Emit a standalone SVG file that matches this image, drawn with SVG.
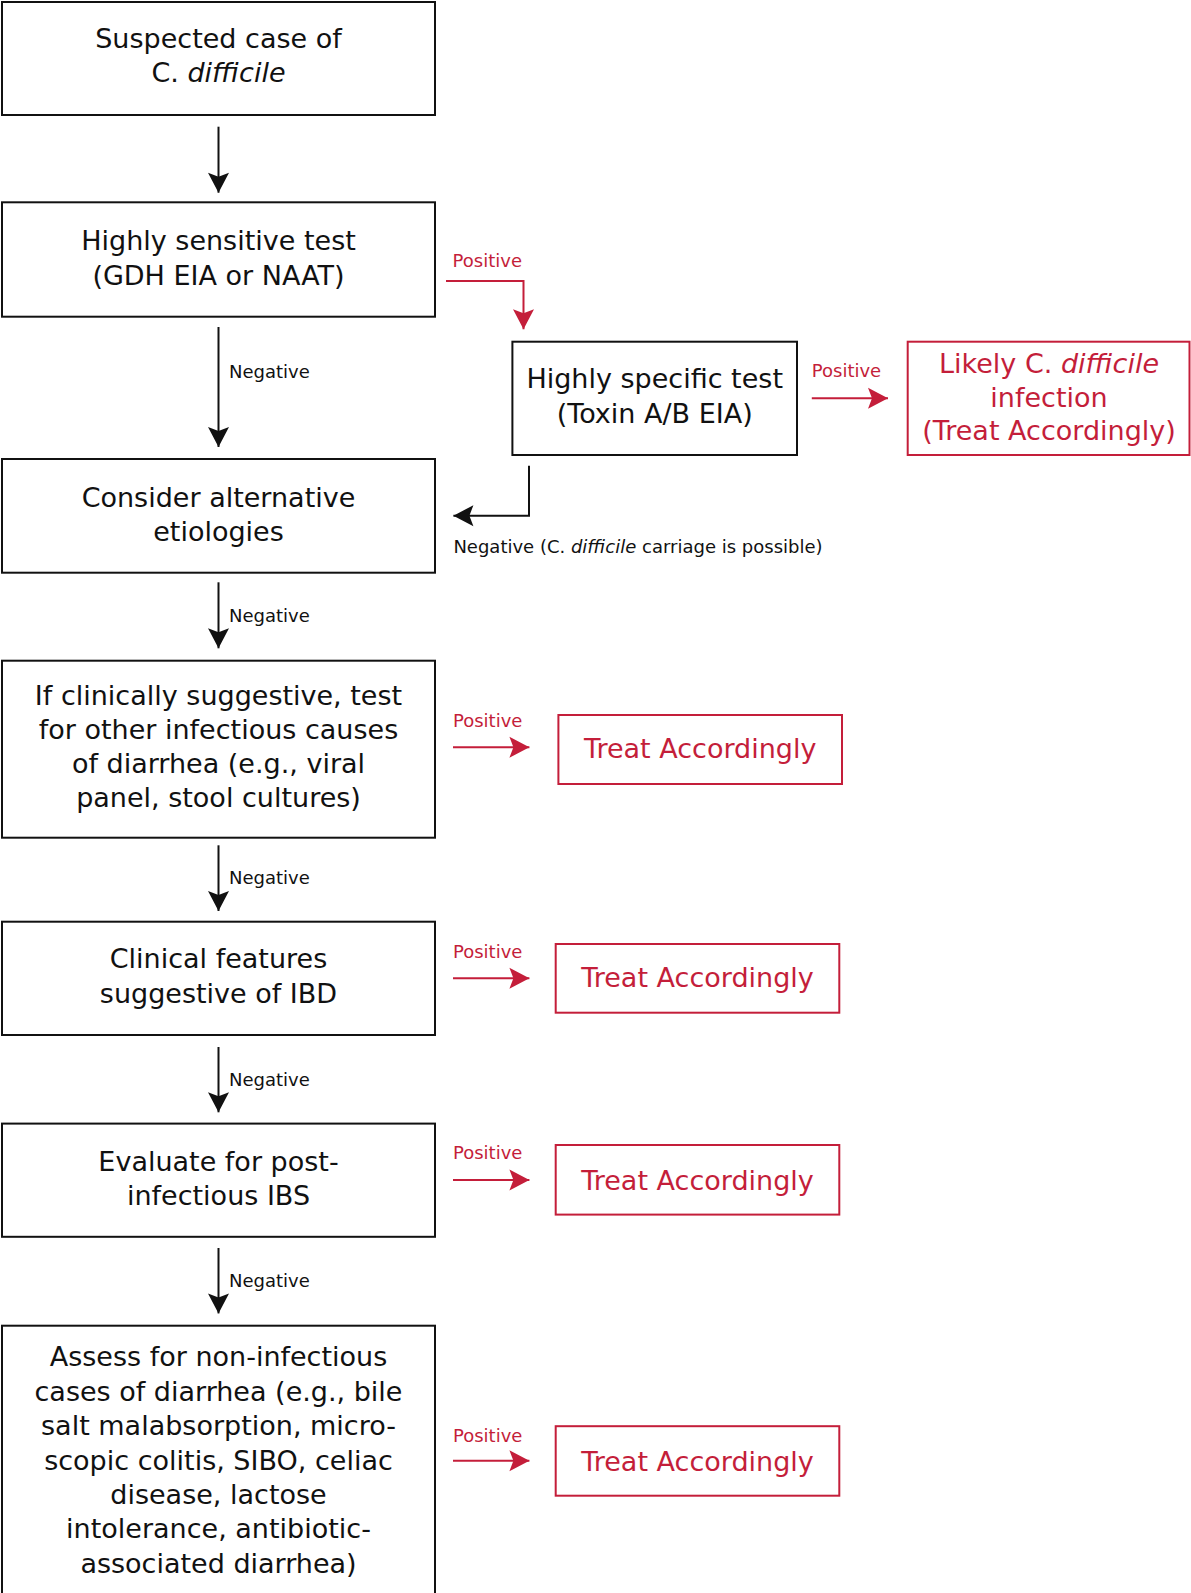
<svg xmlns="http://www.w3.org/2000/svg" width="1191" height="1593" viewBox="0 0 1191 1593">
<style>
  .box { fill: #ffffff; stroke: #111111; stroke-width: 2; }
  .rbox { fill: #ffffff; stroke: #c41e3a; stroke-width: 2; }
  .t { font-family: "DejaVu Sans", "Liberation Sans", sans-serif; font-size: 27px; fill: #111111; text-anchor: middle; }
  .rt { font-family: "DejaVu Sans", "Liberation Sans", sans-serif; font-size: 27px; fill: #c41e3a; text-anchor: middle; }
  .lab { font-family: "DejaVu Sans", "Liberation Sans", sans-serif; font-size: 18px; fill: #111111; }
  .rlab { font-family: "DejaVu Sans", "Liberation Sans", sans-serif; font-size: 18px; fill: #c41e3a; }
  .it { font-style: italic; }
  .bl { fill: none; stroke: #111111; stroke-width: 2; marker-end: url(#ab); }
  .rl { fill: none; stroke: #c41e3a; stroke-width: 2; marker-end: url(#ar); }
</style>
<defs>
  <marker id="ab" markerUnits="userSpaceOnUse" markerWidth="22" markerHeight="24" refX="20" refY="11" orient="auto" overflow="visible">
    <path d="M0,0.5 L20,11 L0,21.5 L4,11 Z" fill="#111111"/>
  </marker>
  <marker id="ar" markerUnits="userSpaceOnUse" markerWidth="22" markerHeight="24" refX="20" refY="11" orient="auto" overflow="visible">
    <path d="M0,0.5 L20,11 L0,21.5 L4,11 Z" fill="#c41e3a"/>
  </marker>
</defs>
<rect width="1191" height="1593" fill="#ffffff"/>

<g id="connectors">
  <line class="bl" x1="218.5" y1="126.7" x2="218.5" y2="192.7"/>
  <line class="bl" x1="218.5" y1="327" x2="218.5" y2="447"/>
  <text class="lab" x="229" y="378">Negative</text>
  <path class="rl" d="M446,281 H523.5 V329.3"/>
  <text class="rlab" x="452.6" y="266.7">Positive</text>
  <line class="rl" x1="811.8" y1="398.3" x2="888" y2="398.3"/>
  <text class="rlab" x="811.8" y="377.3">Positive</text>
  <path class="bl" d="M529,465.7 V515.7 H453.4"/>
  <text class="lab" x="453.4" y="553.3">Negative (C. <tspan class="it">difficile</tspan> carriage is possible)</text>
  <line class="bl" x1="218.5" y1="582.3" x2="218.5" y2="648.3"/>
  <text class="lab" x="229" y="621.7">Negative</text>
  <line class="rl" x1="453" y1="747.3" x2="529.4" y2="747.3"/>
  <text class="rlab" x="453" y="726.7">Positive</text>
  <line class="bl" x1="218.5" y1="845.3" x2="218.5" y2="911"/>
  <text class="lab" x="229" y="884">Negative</text>
  <line class="rl" x1="453" y1="978.3" x2="529.4" y2="978.3"/>
  <text class="rlab" x="453" y="958.3">Positive</text>
  <line class="bl" x1="218.5" y1="1047" x2="218.5" y2="1112.3"/>
  <text class="lab" x="229" y="1085.9">Negative</text>
  <line class="rl" x1="453" y1="1180" x2="529.4" y2="1180"/>
  <text class="rlab" x="453" y="1159.2">Positive</text>
  <line class="bl" x1="218.5" y1="1248" x2="218.5" y2="1313.4"/>
  <text class="lab" x="229" y="1287">Negative</text>
  <line class="rl" x1="453" y1="1460.8" x2="529.4" y2="1460.8"/>
  <text class="rlab" x="453" y="1442">Positive</text>
</g>

<g id="suspected">
  <rect class="box" x="2" y="2" width="433" height="113"/>
  <text class="t" x="218.5" y="48.3">Suspected case of</text>
  <text class="t" x="218.5" y="82.3">C. <tspan class="it">difficile</tspan></text>
</g>
<g id="sensitive">
  <rect class="box" x="2" y="202.3" width="433" height="114.4"/>
  <text class="t" x="218.5" y="250">Highly sensitive test</text>
  <text class="t" x="218.5" y="285">(GDH EIA or NAAT)</text>
</g>
<g id="specific">
  <rect class="box" x="512.4" y="341.7" width="284.6" height="113.3"/>
  <text class="t" x="654.7" y="388.3">Highly specific test</text>
  <text class="t" x="654.7" y="423.3">(Toxin A/B EIA)</text>
</g>
<g id="likely">
  <rect class="rbox" x="907.7" y="341.7" width="281.8" height="113.3"/>
  <text class="rt" x="1049" y="373.3">Likely C. <tspan class="it">difficile</tspan></text>
  <text class="rt" x="1049" y="407.3">infection</text>
  <text class="rt" x="1049" y="440">(Treat Accordingly)</text>
</g>
<g id="alternative">
  <rect class="box" x="2" y="459" width="433" height="113.7"/>
  <text class="t" x="218.5" y="507">Consider alternative</text>
  <text class="t" x="218.5" y="541">etiologies</text>
</g>
<g id="infectious">
  <rect class="box" x="2" y="660.7" width="433" height="177"/>
  <text class="t" x="218.5" y="705">If clinically suggestive, test</text>
  <text class="t" x="218.5" y="739.3">for other infectious causes</text>
  <text class="t" x="218.5" y="773.3">of diarrhea (e.g., viral</text>
  <text class="t" x="218.5" y="807.3">panel, stool cultures)</text>
</g>
<g id="treat1">
  <rect class="rbox" x="558.4" y="715" width="283.6" height="69"/>
  <text class="rt" x="700.2" y="758.3">Treat Accordingly</text>
</g>
<g id="ibd">
  <rect class="box" x="2" y="921.7" width="433" height="113.3"/>
  <text class="t" x="218.5" y="968.3">Clinical features</text>
  <text class="t" x="218.5" y="1002.7">suggestive of IBD</text>
</g>
<g id="treat2">
  <rect class="rbox" x="555.7" y="944" width="283.6" height="68.7"/>
  <text class="rt" x="697.5" y="986.7">Treat Accordingly</text>
</g>
<g id="ibs">
  <rect class="box" x="2" y="1123.6" width="433" height="113.2"/>
  <text class="t" x="218.5" y="1170.5">Evaluate for post-</text>
  <text class="t" x="218.5" y="1204.7">infectious IBS</text>
</g>
<g id="treat3">
  <rect class="rbox" x="555.7" y="1145" width="283.6" height="69.6"/>
  <text class="rt" x="697.5" y="1190">Treat Accordingly</text>
</g>
<g id="noninfectious">
  <rect class="box" x="2" y="1325.7" width="433" height="290"/>
  <text class="t" x="218.5" y="1366.3">Assess for non-infectious</text>
  <text class="t" x="218.5" y="1400.8">cases of diarrhea (e.g., bile</text>
  <text class="t" x="218.5" y="1435">salt malabsorption, micro-</text>
  <text class="t" x="218.5" y="1469.6">scopic colitis, SIBO, celiac</text>
  <text class="t" x="218.5" y="1503.8">disease, lactose</text>
  <text class="t" x="218.5" y="1538">intolerance, antibiotic-</text>
  <text class="t" x="218.5" y="1572.6">associated diarrhea)</text>
</g>
<g id="treat4">
  <rect class="rbox" x="555.7" y="1426.2" width="283.6" height="69.5"/>
  <text class="rt" x="697.5" y="1471">Treat Accordingly</text>
</g>
</svg>
